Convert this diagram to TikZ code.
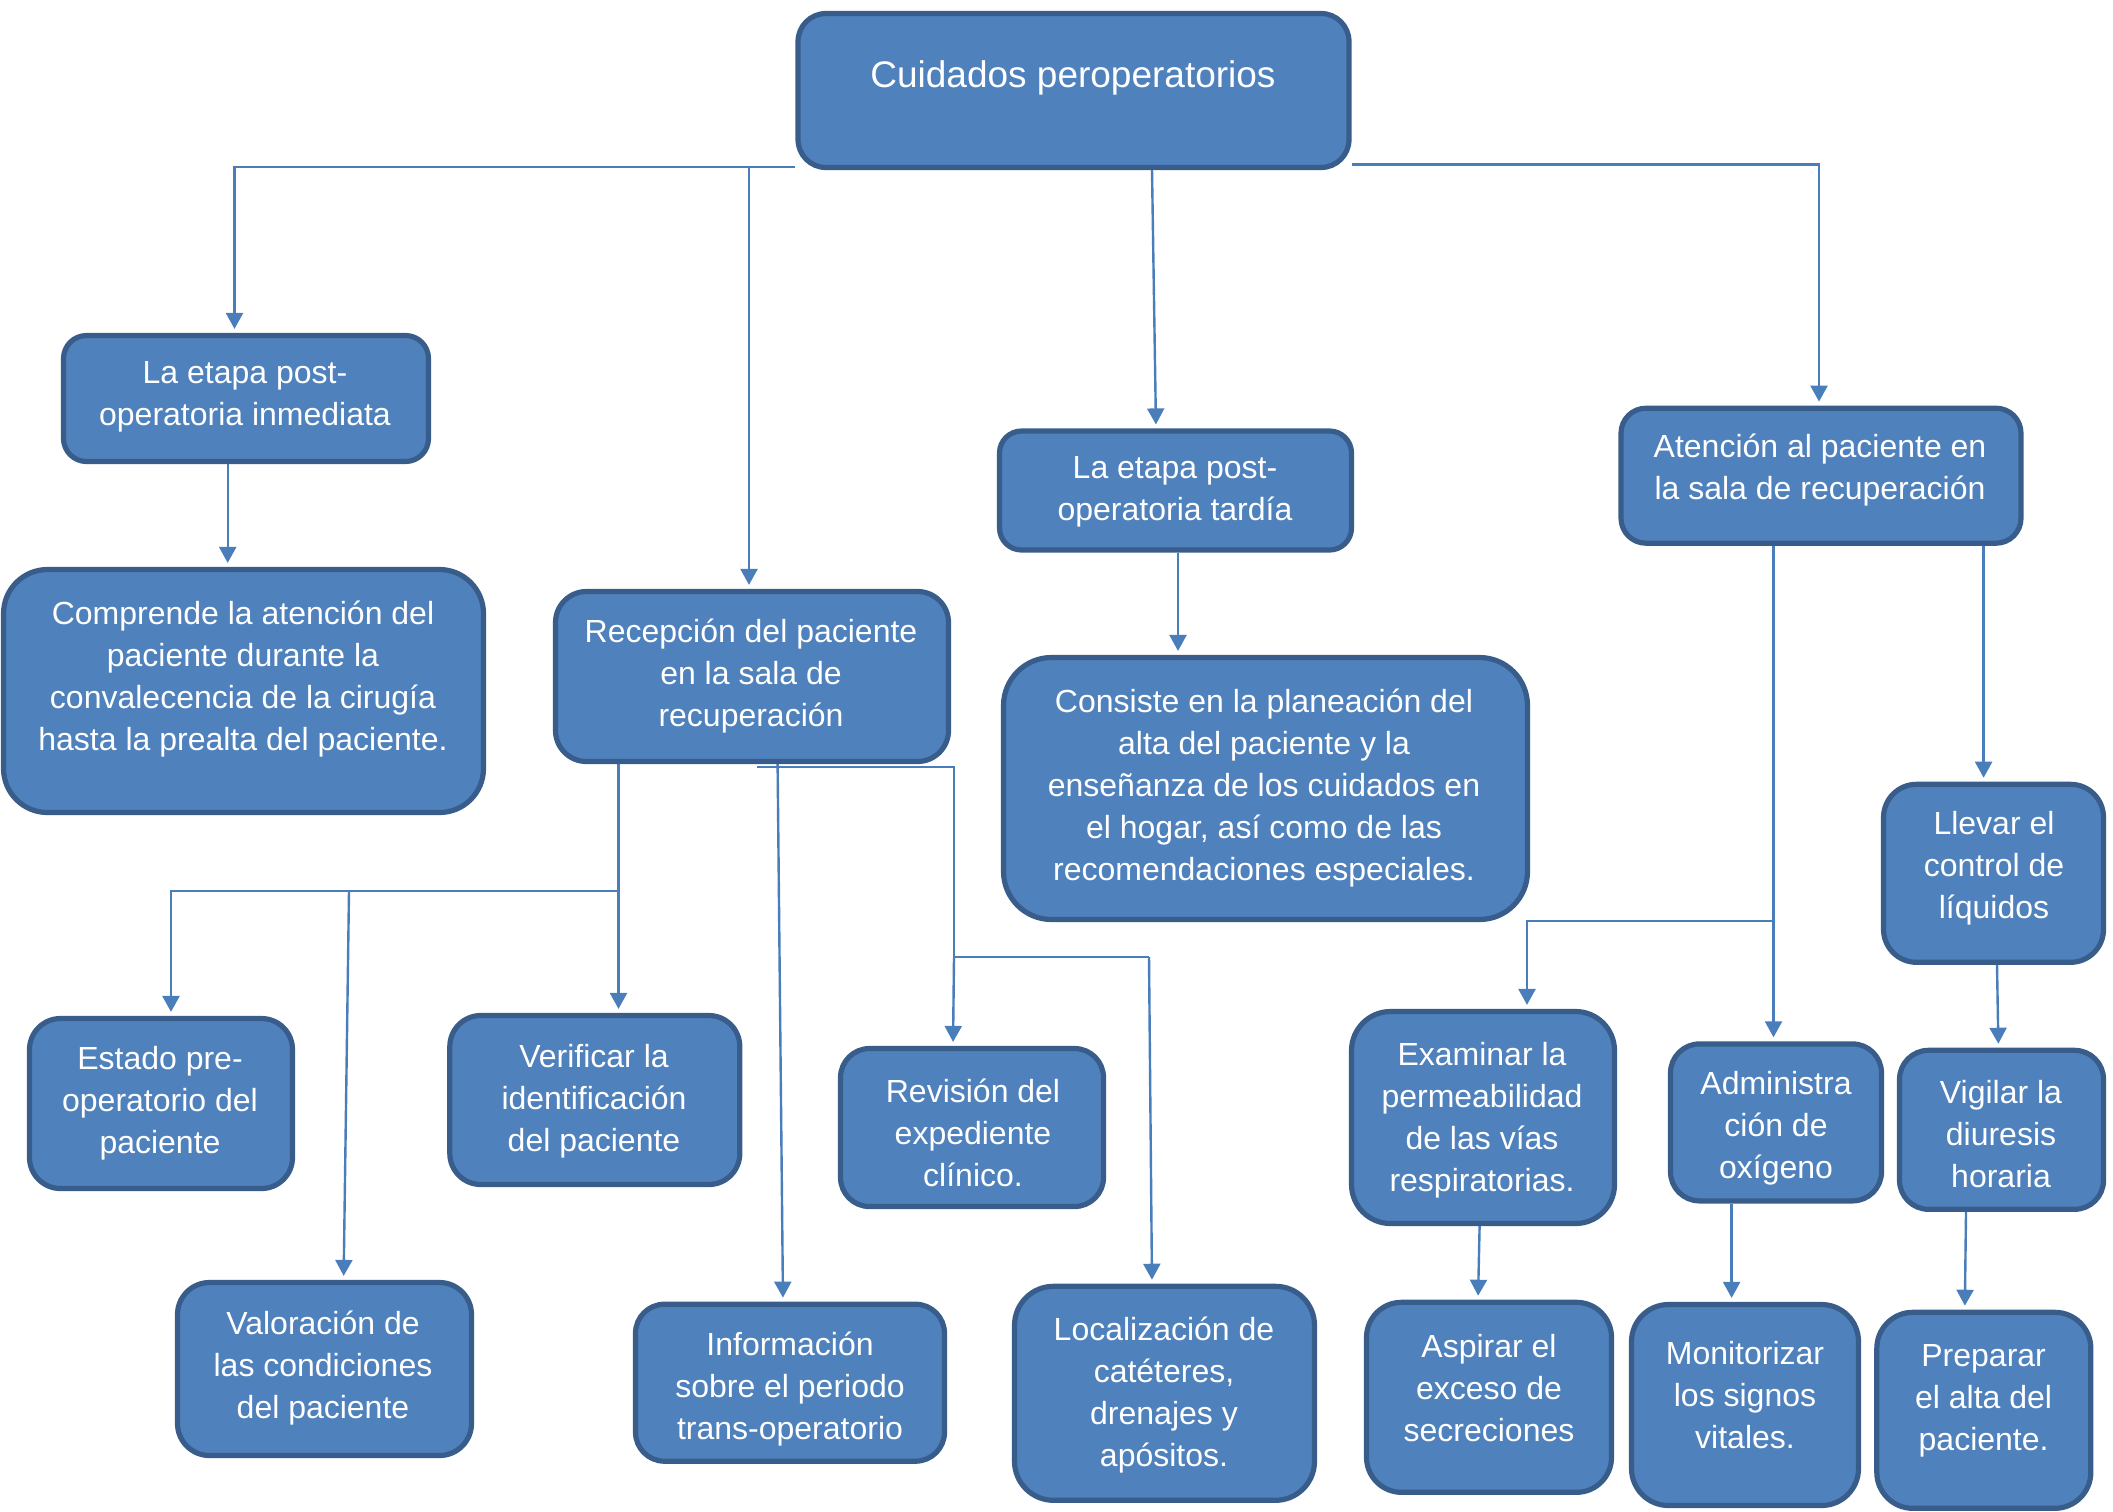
\documentclass[tikz,border=0pt]{standalone}
\usepackage{fontspec}
\setmainfont{Liberation Sans}
\usetikzlibrary{arrows.meta,backgrounds,calc}
\definecolor{boxfill}{HTML}{4F81BD}
\definecolor{boxline}{HTML}{385D8A}
\definecolor{conncol}{HTML}{4A7EBB}
\begin{document}
\begin{tikzpicture}[x=0.5pt,y=-0.5pt,
 box/.style={draw=boxline, fill=boxfill, line width=2.6pt, inner sep=0pt},
 txt/.style={text=white, align=center, font=\fontsize{16pt}{21pt}\selectfont, inner sep=0pt, yshift=-1.8pt},
 conn/.style={draw=conncol, line width=1.2pt},
 arr/.style={conn, -{Triangle[length=8pt,width=8.5pt]}, shorten >=2pt}]
\useasboundingbox (0,0) rectangle (2113,1511);

% boxes
\node[box, minimum width=275.5pt, minimum height=77pt, rounded corners=14pt] (b1) at (1073.5,90.5) {};
\node[box, minimum width=182.5pt, minimum height=63pt, rounded corners=11.5pt] (b2) at (246,398.5) {};
\node[box, minimum width=240pt, minimum height=121.5pt, rounded corners=22pt] (b3) at (243.5,691) {};
\node[box, minimum width=196.5pt, minimum height=85pt, rounded corners=15.5pt] (b4) at (752,676.5) {};
\node[box, minimum width=176pt, minimum height=59.5pt, rounded corners=11pt] (b5) at (1175.5,490.5) {};
\node[box, minimum width=262pt, minimum height=131pt, rounded corners=24pt] (b6) at (1265.5,788.5) {};
\node[box, minimum width=200pt, minimum height=67.5pt, rounded corners=12.5pt] (b7) at (1821,475.7) {};
\node[box, minimum width=110pt, minimum height=89pt, rounded corners=16.5pt] (b8) at (1993.5,873.3) {};
\node[box, minimum width=131.5pt, minimum height=85pt, rounded corners=15.5pt] (b9) at (161,1103.5) {};
\node[box, minimum width=147pt, minimum height=86.5pt, rounded corners=16pt] (b10) at (324.5,1369) {};
\node[box, minimum width=145pt, minimum height=84.5pt, rounded corners=15.5pt] (b11) at (594.8,1100) {};
\node[box, minimum width=154.5pt, minimum height=78.5pt, rounded corners=14.5pt] (b12) at (790,1382.7) {};
\node[box, minimum width=131.5pt, minimum height=79pt, rounded corners=14.5pt] (b13) at (972,1127.5) {};
\node[box, minimum width=150pt, minimum height=107pt, rounded corners=19.5pt] (b14) at (1164.5,1393.3) {};
\node[box, minimum width=131.5pt, minimum height=106pt, rounded corners=19.5pt] (b15) at (1483,1117.5) {};
\node[box, minimum width=122.5pt, minimum height=95pt, rounded corners=17.5pt] (b16) at (1489,1397.3) {};
\node[box, minimum width=105.5pt, minimum height=78.5pt, rounded corners=14.5pt] (b17) at (1776,1122.4) {};
\node[box, minimum width=113.5pt, minimum height=100.5pt, rounded corners=18.5pt] (b18) at (1745,1405) {};
\node[box, minimum width=102pt, minimum height=79.5pt, rounded corners=14.5pt] (b19) at (2001.5,1129.8) {};
\node[box, minimum width=107pt, minimum height=98pt, rounded corners=18pt] (b20) at (1983.8,1410.3) {};

% texts
\node[txt, font=\fontsize{18.5pt}{23pt}\selectfont] (t1) at (1073,74) {Cuidados peroperatorios};
\node[txt] (t2) at (245,393) {La etapa post-\\operatoria inmediata};
\node[txt] (t3) at (243,675) {Comprende la atención del\\paciente durante la\\convalecencia de la cirugía\\hasta la prealta del paciente.};
\node[txt] (t4) at (751,672) {Recepción del paciente\\en la sala de\\recuperación};
\node[txt] (t5) at (1175,488.5) {La etapa post-\\operatoria tardía};
\node[txt] (t6) at (1264,784) {Consiste en la planeación del\\alta del paciente y la\\enseñanza de los cuidados en\\el hogar, así como de las\\recomendaciones especiales.};
\node[txt] (t7) at (1820,466) {Atención al paciente en\\la sala de recuperación};
\node[txt] (t8) at (1994,865) {Llevar el\\control de\\líquidos};
\node[txt] (t9) at (160,1099.6) {Estado pre-\\operatorio del\\paciente};
\node[txt] (t10) at (323,1364) {Valoración de\\las condiciones\\del paciente};
\node[txt] (t11) at (594,1097.6) {Verificar la\\identificación\\del paciente};
\node[txt] (t12) at (790,1385) {Información\\sobre el periodo\\trans-operatorio};
\node[txt] (t13) at (973,1129) {Revisión del\\expediente\\clínico.};
\node[txt] (t14) at (1164,1391) {Localización de\\catéteres,\\drenajes y\\apósitos.};
\node[txt] (t15) at (1482,1116.5) {Examinar la\\permeabilidad\\de las vías\\respiratorias.};
\node[txt] (t16) at (1489,1384.7) {Aspirar el\\exceso de\\secreciones};
\node[txt] (t17) at (1776,1125) {Administra\\ción de\\oxígeno};
\node[txt] (t18) at (1745,1391) {Monitorizar\\los signos\\vitales.};
\node[txt] (t19) at (2001,1130.6) {Vigilar la\\diuresis\\horaria};
\node[txt] (t20) at (1983.6,1397.5) {Preparar\\el alta del\\paciente.};

% junction coordinates
\coordinate (c1) at (234.5,167);
\coordinate (c2) at (749,167);
\coordinate (c3) at (1152,170);
\coordinate (c4) at (1819,164.4);
\coordinate (c5) at (227.7,464);
\coordinate (c6) at (1178,552);
\coordinate (g1) at (618.5,890.8);
\coordinate (g2) at (171,890.8);
\coordinate (g3) at (349,890.8);
\coordinate (h1) at (777.6,764);
\coordinate (i0) at (757,767);
\coordinate (i1) at (954,767);
\coordinate (i2) at (954,957);
\coordinate (i3) at (1149,957);
\coordinate (j1) at (1773.5,921);
\coordinate (j2) at (1527,921);
\coordinate (k1) at (1983.6,546);
\coordinate (l1) at (1997,965);
\coordinate (m1) at (1479.6,1226);
\coordinate (n1) at (1731.6,1203);
\coordinate (o1) at (1966,1211);

\begin{scope}[on background layer]
\draw[arr] (b1.south west |- c1) -- (c1) -- (c1 |- b2.north);
\draw[arr] (c2) -- (c2 |- b4.north);
\draw[arr] (c3) -- ($(c3 |- b5.north)+(4,0)$);
\draw[arr] (b1.south east |- c4) -- (c4) -- (c4 |- b7.north);
\draw[arr] (c5 |- b2.south) -- (c5 |- b3.north);
\draw[arr] (c6 |- b5.south) -- (c6 |- b6.north);
\draw[arr] (g1 |- b4.south) -- (g1 |- b11.north);
\draw[arr] (g1) -- (g2) -- (g2 |- b9.north);
\draw[arr] (g3) -- ($(g3 |- b10.north)+(-5.4,0)$);
\draw[arr] (h1 |- b4.south) -- ($(h1 |- b12.north)+(5.4,0)$);
\draw[conn] (i0) -- (i1) -- (i2) -- (i3);
\draw[arr] (i2) -- ($(i2 |- b13.north)+(-1,0)$);
\draw[arr] (i3) -- ($(i3 |- b14.north)+(3,0)$);
\draw[arr] (j1 |- b7.south) -- (j1 |- b17.north);
\draw[arr] (j1) -- (j2) -- (j2 |- b15.north);
\draw[arr] (k1 |- b7.south) -- (k1 |- b8.north);
\draw[arr] (l1 |- b8.south) -- ($(l1 |- b19.north)+(1.4,0)$);
\draw[arr] (m1 |- b15.south) -- ($(m1 |- b16.north)+(-1.6,0)$);
\draw[arr] (n1 |- b17.south) -- (n1 |- b18.north);
\draw[arr] (o1 |- b19.south) -- ($(o1 |- b20.north)+(-1.2,0)$);
\end{scope}
\end{tikzpicture}
\end{document}
